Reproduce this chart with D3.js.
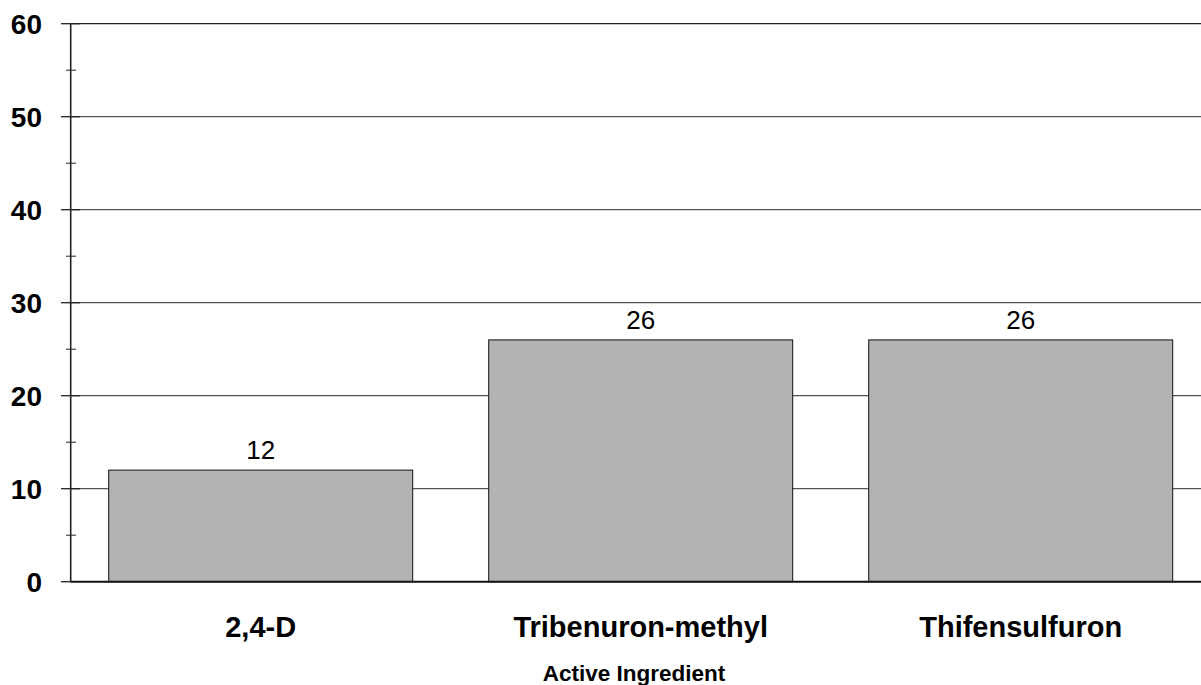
<!DOCTYPE html>
<html>
<head>
<meta charset="utf-8">
<script src="https://cdn.jsdelivr.net/npm/d3@7"></script>
<style>
  html, body { margin: 0; padding: 0; background: #fff; }
  svg { display: block; font-family: "Liberation Sans", Arial, sans-serif; }
</style>
</head>
<body>
<svg id="chart" width="1201" height="685"></svg>
<script>
const categories = ["2,4-D", "Tribenuron-methyl", "Thifensulfuron"];
const values = [12, 26, 26];
const yTicks = [0, 10, 20, 30, 40, 50, 60];
const yMinorTicks = [5, 15, 25, 35, 45, 55];
const xTitle = "Active Ingredient";

(function () {
const svg = d3.select("#chart");
const pLeft = 70.7, pRight = 1210.7, pTop = 23.7, pBottom = 581.7;

const x = d3.scaleBand().domain(categories).range([pLeft, pRight])
  .paddingInner(0.2).paddingOuter(0.1);
const y = d3.scaleLinear().domain([0, 60]).range([pBottom, pTop]);

// gridlines
svg.append("g").selectAll("line").data(yTicks.filter(d => d > 0)).join("line")
  .attr("x1", pLeft).attr("x2", pRight)
  .attr("y1", d => y(d)).attr("y2", d => y(d))
  .attr("stroke", d => d === 60 ? "#222" : "#555").attr("stroke-width", 1.3);

// bars
svg.append("g").selectAll("rect").data(values).join("rect")
  .attr("x", (d, i) => x(categories[i]))
  .attr("y", d => y(d))
  .attr("width", x.bandwidth())
  .attr("height", d => y(0) - y(d))
  .attr("fill", "#b3b3b3")
  .attr("stroke", "#111").attr("stroke-width", 1);

// value labels
svg.append("g").selectAll("text").data(values).join("text")
  .attr("x", (d, i) => x(categories[i]) + x.bandwidth() / 2)
  .attr("y", d => y(d) - 10.7)
  .attr("text-anchor", "middle")
  .attr("font-size", 26)
  .attr("fill", "#000")
  .text(d => d);

// y axis line
svg.append("line").attr("x1", pLeft).attr("x2", pLeft).attr("y1", pTop).attr("y2", pBottom)
  .attr("stroke", "#222").attr("stroke-width", 1.6);
// x axis line
svg.append("line").attr("x1", pLeft).attr("x2", pRight).attr("y1", pBottom).attr("y2", pBottom)
  .attr("stroke", "#111").attr("stroke-width", 2);

// major ticks
svg.append("g").selectAll("line").data(yTicks).join("line")
  .attr("x1", 61).attr("x2", d => d === 0 ? pLeft : 80)
  .attr("y1", d => y(d)).attr("y2", d => y(d))
  .attr("stroke", "#222").attr("stroke-width", 1.3);
// minor ticks
svg.append("g").selectAll("line").data(yMinorTicks).join("line")
  .attr("x1", 66).attr("x2", 76)
  .attr("y1", d => y(d)).attr("y2", d => y(d))
  .attr("stroke", "#222").attr("stroke-width", 1);

// y tick labels
svg.append("g").selectAll("text").data(yTicks).join("text")
  .attr("x", 42).attr("y", d => y(d) + 10.5)
  .attr("text-anchor", "end")
  .attr("font-size", 28).attr("font-weight", "bold")
  .text(d => d);

// category labels
svg.append("g").selectAll("text").data(categories).join("text")
  .attr("x", d => x(d) + x.bandwidth() / 2)
  .attr("y", 636.7)
  .attr("text-anchor", "middle")
  .attr("font-size", 29).attr("font-weight", "bold")
  .text(d => d);

// x axis title
svg.append("text").attr("x", 634).attr("y", 681)
  .attr("text-anchor", "middle")
  .attr("font-size", 22.5).attr("font-weight", "bold")
  .text(xTitle);
})();
</script>
</body>
</html>
